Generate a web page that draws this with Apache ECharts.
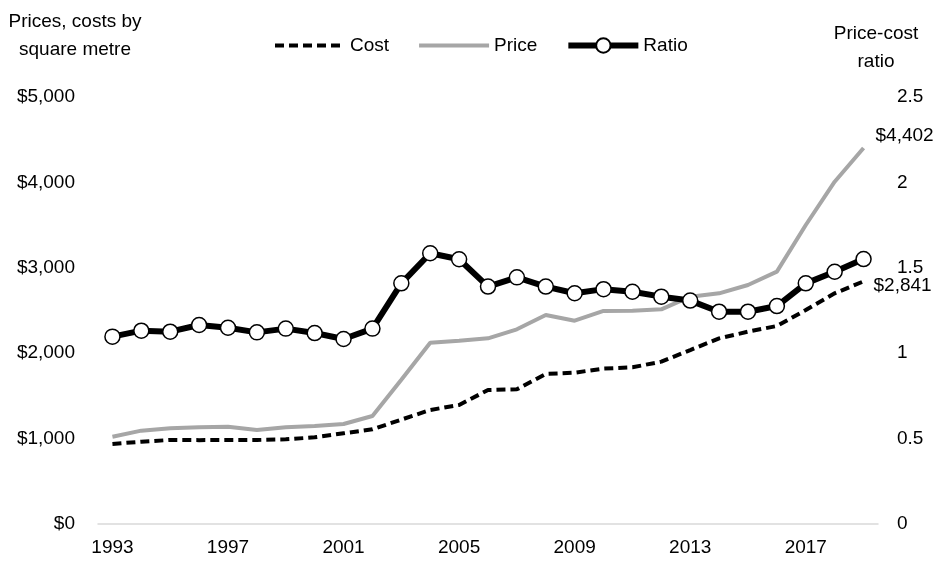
<!DOCTYPE html>
<html>
<head>
<meta charset="utf-8">
<script src="https://cdn.jsdelivr.net/npm/echarts@6/dist/echarts.min.js"></script>
<style>
  html, body { margin: 0; padding: 0; background: #fff; }
  #chart { width: 939px; height: 562px; }
</style>
</head>
<body>
<div id="chart"></div>
<script>
var years = ['1993','1994','1995','1996','1997','1998','1999','2000','2001','2002','2003','2004','2005',
    '2006','2007','2008','2009','2010','2011','2012','2013','2014','2015','2016','2017','2018','2019'];
var cost = [937, 964, 984, 982, 984, 984, 991, 1015, 1062, 1109, 1222, 1335, 1394,
    1569, 1577, 1757, 1772, 1820, 1835, 1901, 2037, 2174, 2252, 2319, 2506, 2701, 2841];
var price = [1022, 1093, 1120, 1132, 1140, 1101, 1132, 1148, 1171, 1265, 1690, 2123, 2147,
    2174, 2280, 2447, 2381, 2495, 2498, 2514, 2662, 2701, 2799, 2955, 3501, 4008, 4402];
var ratio = [1.097, 1.132, 1.126, 1.165, 1.149, 1.122, 1.144, 1.118, 1.083, 1.144, 1.409, 1.585, 1.550,
    1.390, 1.444, 1.390, 1.351, 1.375, 1.360, 1.331, 1.308, 1.243, 1.243, 1.276, 1.409, 1.477, 1.551];

var font = "'Liberation Sans', Arial, sans-serif";
var fs = 19;

function money(v) { return '$' + v.toLocaleString('en-US'); }

var myChart = echarts.init(document.getElementById('chart'));
var option = {
    animation: false,
    textStyle: { fontFamily: font, color: '#000' },
    grid: { left: 98, right: 61, top: 97, bottom: 38 },
    legend: {
        top: 31,
        left: 268,
        itemWidth: 70,
        itemHeight: 18,
        itemGap: 28,
        textStyle: { fontSize: fs, fontFamily: font, color: '#000' },
        data: [
            { name: 'Cost', itemStyle: { opacity: 0 }, lineStyle: { width: 4, type: [9, 5] } },
            { name: 'Price', itemStyle: { opacity: 0 }, lineStyle: { width: 4 } },
            { name: 'Ratio', lineStyle: { width: 6 } }
        ]
    },
    graphic: [
        { type: 'text', x: 75, y: 8, style: { text: 'Prices, costs by\nsquare metre', font: fs + 'px ' + font, fill: '#000', textAlign: 'center', lineHeight: 28 } },
        { type: 'text', x: 876, y: 20, style: { text: 'Price-cost\nratio', font: fs + 'px ' + font, fill: '#000', textAlign: 'center', lineHeight: 28 } }
    ],
    xAxis: {
        type: 'category',
        data: years,
        boundaryGap: true,
        axisLine: { lineStyle: { color: '#d9d9d9', width: 1.5 } },
        axisTick: { show: false },
        axisLabel: { interval: 3, fontSize: fs, color: '#000', margin: 14 }
    },
    yAxis: [
        {
            type: 'value', min: 0, max: 5000, interval: 1000,
            splitLine: { show: false },
            axisLine: { show: false },
            axisTick: { show: false },
            axisLabel: { fontSize: fs, color: '#000', margin: 23, formatter: money }
        },
        {
            type: 'value', min: 0, max: 2.5, interval: 0.5,
            splitLine: { show: false },
            axisLine: { show: false },
            axisTick: { show: false },
            axisLabel: { fontSize: fs, color: '#000', margin: 19 }
        }
    ],
    series: [
        {
            name: 'Cost', type: 'line', data: cost, yAxisIndex: 0,
            symbol: 'none',
            lineStyle: { color: '#000', width: 4, type: [9, 5] },
            itemStyle: { color: '#000' },
            endLabel: {
                show: true, fontSize: fs, color: '#000', fontFamily: font,
                offset: [2, 4],
                formatter: function (p) { return money(p.value); }
            },
            z: 2
        },
        {
            name: 'Price', type: 'line', data: price, yAxisIndex: 0,
            symbol: 'none',
            lineStyle: { color: '#a6a6a6', width: 4 },
            itemStyle: { color: '#a6a6a6' },
            endLabel: {
                show: true, fontSize: fs, color: '#000', fontFamily: font,
                offset: [4, -12],
                formatter: function (p) { return money(p.value); }
            },
            z: 1
        },
        {
            name: 'Ratio', type: 'line', data: ratio, yAxisIndex: 1,
            symbol: 'circle', symbolSize: 15,
            lineStyle: { color: '#000', width: 6 },
            itemStyle: { color: '#fff', borderColor: '#000', borderWidth: 1.5 },
            z: 3
        }
    ]
};
myChart.setOption(option);
</script>
</body>
</html>
